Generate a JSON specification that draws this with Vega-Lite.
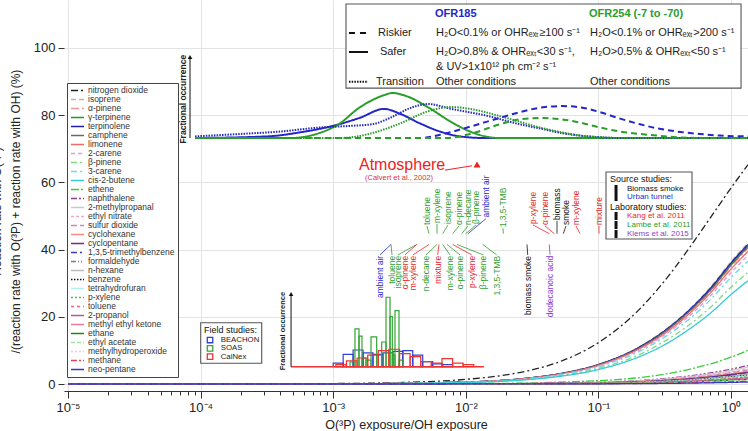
{
  "$schema": "https://vega.github.io/schema/vega-lite/v6.json",
  "width": 684,
  "height": 391,
  "autosize": {"type": "none"},
  "padding": {"left": 64, "top": 0, "right": 0, "bottom": 40},
  "background": "white",
  "config": {
    "font": "Liberation Sans",
    "view": {"stroke": null},
    "axis": {"labelFont": "Liberation Sans", "titleFont": "Liberation Sans", "labelColor": "#222", "titleColor": "#222", "domainColor": "#333", "tickColor": "#333", "gridColor": "#e3e3e3", "titleFontWeight": "normal"}
  },
  "datasets": {
    "curves": [
      {"s":"nitrogen dioxide","x":1e-5,"y":0},{"s":"nitrogen dioxide","x":0.001,"y":0.14},{"s":"nitrogen dioxide","x":0.003,"y":0.42},{"s":"nitrogen dioxide","x":0.01,"y":1.38},{"s":"nitrogen dioxide","x":0.02,"y":2.7},{"s":"nitrogen dioxide","x":0.03,"y":4.0},{"s":"nitrogen dioxide","x":0.05,"y":6.5},{"s":"nitrogen dioxide","x":0.1,"y":12.3},{"s":"nitrogen dioxide","x":0.2,"y":21.9},{"s":"nitrogen dioxide","x":0.3,"y":29.6},{"s":"nitrogen dioxide","x":0.5,"y":41.2},{"s":"nitrogen dioxide","x":0.7,"y":49.5},{"s":"nitrogen dioxide","x":1,"y":58.3},{"s":"nitrogen dioxide","x":1.34,"y":65.2},
      {"s":"isoprene","x":1e-5,"y":0},{"s":"isoprene","x":0.001,"y":0.06},{"s":"isoprene","x":0.01,"y":0.61},{"s":"isoprene","x":0.03,"y":1.82},{"s":"isoprene","x":0.05,"y":3.03},{"s":"isoprene","x":0.1,"y":5.86},{"s":"isoprene","x":0.2,"y":10.9},{"s":"isoprene","x":0.3,"y":15.4},{"s":"isoprene","x":0.5,"y":22.7},{"s":"isoprene","x":0.7,"y":28.8},{"s":"isoprene","x":1,"y":36.4},{"s":"isoprene","x":1.34,"y":41.9},
      {"s":"α-pinene","x":1e-5,"y":0},{"s":"α-pinene","x":0.001,"y":0.06},{"s":"α-pinene","x":0.01,"y":0.58},{"s":"α-pinene","x":0.03,"y":1.75},{"s":"α-pinene","x":0.05,"y":2.91},{"s":"α-pinene","x":0.1,"y":5.63},{"s":"α-pinene","x":0.2,"y":10.5},{"s":"α-pinene","x":0.3,"y":14.7},{"s":"α-pinene","x":0.5,"y":21.8},{"s":"α-pinene","x":0.7,"y":27.6},{"s":"α-pinene","x":1,"y":34.9},{"s":"α-pinene","x":1.34,"y":40.3},
      {"s":"γ-terpinene","x":1e-5,"y":0},{"s":"γ-terpinene","x":0.001,"y":0.06},{"s":"γ-terpinene","x":0.01,"y":0.59},{"s":"γ-terpinene","x":0.03,"y":1.78},{"s":"γ-terpinene","x":0.05,"y":2.97},{"s":"γ-terpinene","x":0.1,"y":5.74},{"s":"γ-terpinene","x":0.2,"y":10.7},{"s":"γ-terpinene","x":0.3,"y":15.0},{"s":"γ-terpinene","x":0.5,"y":22.3},{"s":"γ-terpinene","x":0.7,"y":28.2},{"s":"γ-terpinene","x":1,"y":35.6},{"s":"γ-terpinene","x":1.34,"y":41.1},
      {"s":"terpinolene","x":1e-5,"y":0},{"s":"terpinolene","x":0.001,"y":0.06},{"s":"terpinolene","x":0.01,"y":0.6},{"s":"terpinolene","x":0.03,"y":1.8},{"s":"terpinolene","x":0.05,"y":3.0},{"s":"terpinolene","x":0.1,"y":5.8},{"s":"terpinolene","x":0.2,"y":10.8},{"s":"terpinolene","x":0.3,"y":15.2},{"s":"terpinolene","x":0.5,"y":22.5},{"s":"terpinolene","x":0.7,"y":28.5},{"s":"terpinolene","x":1,"y":36},{"s":"terpinolene","x":1.34,"y":41.5},
      {"s":"camphene","x":1e-5,"y":0},{"s":"camphene","x":0.001,"y":0.06},{"s":"camphene","x":0.01,"y":0.59},{"s":"camphene","x":0.03,"y":1.76},{"s":"camphene","x":0.05,"y":2.94},{"s":"camphene","x":0.1,"y":5.68},{"s":"camphene","x":0.2,"y":10.6},{"s":"camphene","x":0.3,"y":14.9},{"s":"camphene","x":0.5,"y":22.1},{"s":"camphene","x":0.7,"y":27.9},{"s":"camphene","x":1,"y":35.3},{"s":"camphene","x":1.34,"y":40.7},
      {"s":"limonene","x":1e-5,"y":0},{"s":"limonene","x":0.001,"y":0.06},{"s":"limonene","x":0.01,"y":0.57},{"s":"limonene","x":0.03,"y":1.71},{"s":"limonene","x":0.05,"y":2.85},{"s":"limonene","x":0.1,"y":5.51},{"s":"limonene","x":0.2,"y":10.3},{"s":"limonene","x":0.3,"y":14.4},{"s":"limonene","x":0.5,"y":21.4},{"s":"limonene","x":0.7,"y":27.1},{"s":"limonene","x":1,"y":34.2},{"s":"limonene","x":1.34,"y":39.4},
      {"s":"2-carene","x":1e-5,"y":0},{"s":"2-carene","x":0.001,"y":0.06},{"s":"2-carene","x":0.01,"y":0.55},{"s":"2-carene","x":0.03,"y":1.66},{"s":"2-carene","x":0.05,"y":2.76},{"s":"2-carene","x":0.1,"y":5.34},{"s":"2-carene","x":0.2,"y":9.9},{"s":"2-carene","x":0.3,"y":14.0},{"s":"2-carene","x":0.5,"y":20.7},{"s":"2-carene","x":0.7,"y":26.2},{"s":"2-carene","x":1,"y":33.1},{"s":"2-carene","x":1.34,"y":38.2},
      {"s":"β-pinene","x":1e-5,"y":0},{"s":"β-pinene","x":0.001,"y":0.05},{"s":"β-pinene","x":0.01,"y":0.48},{"s":"β-pinene","x":0.03,"y":1.44},{"s":"β-pinene","x":0.05,"y":2.4},{"s":"β-pinene","x":0.1,"y":4.64},{"s":"β-pinene","x":0.2,"y":8.6},{"s":"β-pinene","x":0.3,"y":12.2},{"s":"β-pinene","x":0.5,"y":18.0},{"s":"β-pinene","x":0.7,"y":22.8},{"s":"β-pinene","x":1,"y":28.8},{"s":"β-pinene","x":1.34,"y":33.2},
      {"s":"3-carene","x":1e-5,"y":0},{"s":"3-carene","x":0.001,"y":0.05},{"s":"3-carene","x":0.01,"y":0.53},{"s":"3-carene","x":0.03,"y":1.58},{"s":"3-carene","x":0.05,"y":2.64},{"s":"3-carene","x":0.1,"y":5.1},{"s":"3-carene","x":0.2,"y":9.5},{"s":"3-carene","x":0.3,"y":13.4},{"s":"3-carene","x":0.5,"y":19.8},{"s":"3-carene","x":0.7,"y":25.1},{"s":"3-carene","x":1,"y":31.7},{"s":"3-carene","x":1.34,"y":36.5},
      {"s":"cis-2-butene","x":1e-5,"y":0},{"s":"cis-2-butene","x":0.001,"y":0.04},{"s":"cis-2-butene","x":0.01,"y":0.44},{"s":"cis-2-butene","x":0.03,"y":1.33},{"s":"cis-2-butene","x":0.05,"y":2.22},{"s":"cis-2-butene","x":0.1,"y":4.29},{"s":"cis-2-butene","x":0.2,"y":8.0},{"s":"cis-2-butene","x":0.3,"y":11.2},{"s":"cis-2-butene","x":0.5,"y":16.7},{"s":"cis-2-butene","x":0.7,"y":21.1},{"s":"cis-2-butene","x":1,"y":26.6},{"s":"cis-2-butene","x":1.34,"y":30.7},
      {"s":"ethene","x":1e-5,"y":0},{"s":"ethene","x":0.01,"y":0.1},{"s":"ethene","x":0.1,"y":1.0},{"s":"ethene","x":0.3,"y":2.8},{"s":"ethene","x":0.5,"y":4.5},{"s":"ethene","x":0.7,"y":6.0},{"s":"ethene","x":1,"y":8.0},{"s":"ethene","x":1.34,"y":10.0},
      {"s":"naphthalene","x":1e-5,"y":0},{"s":"naphthalene","x":0.01,"y":0.06},{"s":"naphthalene","x":0.1,"y":0.55},{"s":"naphthalene","x":0.3,"y":1.54},{"s":"naphthalene","x":0.5,"y":2.48},{"s":"naphthalene","x":0.7,"y":3.3},{"s":"naphthalene","x":1,"y":4.4},{"s":"naphthalene","x":1.34,"y":5.5},
      {"s":"2-methylpropanal","x":1e-5,"y":0},{"s":"2-methylpropanal","x":0.01,"y":0.05},{"s":"2-methylpropanal","x":0.1,"y":0.5},{"s":"2-methylpropanal","x":0.3,"y":1.4},{"s":"2-methylpropanal","x":0.5,"y":2.25},{"s":"2-methylpropanal","x":0.7,"y":3.0},{"s":"2-methylpropanal","x":1,"y":4.0},{"s":"2-methylpropanal","x":1.34,"y":5.0},
      {"s":"ethyl nitrate","x":1e-5,"y":0},{"s":"ethyl nitrate","x":0.01,"y":0.05},{"s":"ethyl nitrate","x":0.1,"y":0.45},{"s":"ethyl nitrate","x":0.3,"y":1.26},{"s":"ethyl nitrate","x":0.5,"y":2.03},{"s":"ethyl nitrate","x":0.7,"y":2.7},{"s":"ethyl nitrate","x":1,"y":3.6},{"s":"ethyl nitrate","x":1.34,"y":4.5},
      {"s":"sulfur dioxide","x":1e-5,"y":0},{"s":"sulfur dioxide","x":0.01,"y":0.04},{"s":"sulfur dioxide","x":0.1,"y":0.42},{"s":"sulfur dioxide","x":0.3,"y":1.18},{"s":"sulfur dioxide","x":0.5,"y":1.89},{"s":"sulfur dioxide","x":0.7,"y":2.52},{"s":"sulfur dioxide","x":1,"y":3.36},{"s":"sulfur dioxide","x":1.34,"y":4.2},
      {"s":"cyclohexane","x":1e-5,"y":0},{"s":"cyclohexane","x":0.01,"y":0.04},{"s":"cyclohexane","x":0.1,"y":0.38},{"s":"cyclohexane","x":0.3,"y":1.06},{"s":"cyclohexane","x":0.5,"y":1.71},{"s":"cyclohexane","x":0.7,"y":2.28},{"s":"cyclohexane","x":1,"y":3.04},{"s":"cyclohexane","x":1.34,"y":3.8},
      {"s":"cyclopentane","x":1e-5,"y":0},{"s":"cyclopentane","x":0.01,"y":0.04},{"s":"cyclopentane","x":0.1,"y":0.35},{"s":"cyclopentane","x":0.3,"y":0.98},{"s":"cyclopentane","x":0.5,"y":1.58},{"s":"cyclopentane","x":0.7,"y":2.1},{"s":"cyclopentane","x":1,"y":2.8},{"s":"cyclopentane","x":1.34,"y":3.5},
      {"s":"1,3,5-trimethylbenzene","x":1e-5,"y":0},{"s":"1,3,5-trimethylbenzene","x":0.01,"y":0.03},{"s":"1,3,5-trimethylbenzene","x":0.1,"y":0.33},{"s":"1,3,5-trimethylbenzene","x":0.3,"y":0.92},{"s":"1,3,5-trimethylbenzene","x":0.5,"y":1.49},{"s":"1,3,5-trimethylbenzene","x":0.7,"y":1.98},{"s":"1,3,5-trimethylbenzene","x":1,"y":2.64},{"s":"1,3,5-trimethylbenzene","x":1.34,"y":3.3},
      {"s":"formaldehyde","x":1e-5,"y":0},{"s":"formaldehyde","x":0.01,"y":0.03},{"s":"formaldehyde","x":0.1,"y":0.3},{"s":"formaldehyde","x":0.3,"y":0.84},{"s":"formaldehyde","x":0.5,"y":1.35},{"s":"formaldehyde","x":0.7,"y":1.8},{"s":"formaldehyde","x":1,"y":2.4},{"s":"formaldehyde","x":1.34,"y":3.0},
      {"s":"n-hexane","x":1e-5,"y":0},{"s":"n-hexane","x":0.01,"y":0.03},{"s":"n-hexane","x":0.1,"y":0.28},{"s":"n-hexane","x":0.3,"y":0.78},{"s":"n-hexane","x":0.5,"y":1.26},{"s":"n-hexane","x":0.7,"y":1.68},{"s":"n-hexane","x":1,"y":2.24},{"s":"n-hexane","x":1.34,"y":2.8},
      {"s":"benzene","x":1e-5,"y":0},{"s":"benzene","x":0.01,"y":0.03},{"s":"benzene","x":0.1,"y":0.26},{"s":"benzene","x":0.3,"y":0.73},{"s":"benzene","x":0.5,"y":1.17},{"s":"benzene","x":0.7,"y":1.56},{"s":"benzene","x":1,"y":2.08},{"s":"benzene","x":1.34,"y":2.6},
      {"s":"tetrahydrofuran","x":1e-5,"y":0},{"s":"tetrahydrofuran","x":0.01,"y":0.02},{"s":"tetrahydrofuran","x":0.1,"y":0.24},{"s":"tetrahydrofuran","x":0.3,"y":0.67},{"s":"tetrahydrofuran","x":0.5,"y":1.08},{"s":"tetrahydrofuran","x":0.7,"y":1.44},{"s":"tetrahydrofuran","x":1,"y":1.92},{"s":"tetrahydrofuran","x":1.34,"y":2.4},
      {"s":"p-xylene","x":1e-5,"y":0},{"s":"p-xylene","x":0.01,"y":0.02},{"s":"p-xylene","x":0.1,"y":0.22},{"s":"p-xylene","x":0.3,"y":0.62},{"s":"p-xylene","x":0.5,"y":0.99},{"s":"p-xylene","x":0.7,"y":1.32},{"s":"p-xylene","x":1,"y":1.76},{"s":"p-xylene","x":1.34,"y":2.2},
      {"s":"toluene","x":1e-5,"y":0},{"s":"toluene","x":0.01,"y":0.02},{"s":"toluene","x":0.1,"y":0.2},{"s":"toluene","x":0.3,"y":0.56},{"s":"toluene","x":0.5,"y":0.9},{"s":"toluene","x":0.7,"y":1.2},{"s":"toluene","x":1,"y":1.6},{"s":"toluene","x":1.34,"y":2.0},
      {"s":"2-propanol","x":1e-5,"y":0},{"s":"2-propanol","x":0.01,"y":0.02},{"s":"2-propanol","x":0.1,"y":0.18},{"s":"2-propanol","x":0.3,"y":0.5},{"s":"2-propanol","x":0.5,"y":0.81},{"s":"2-propanol","x":0.7,"y":1.08},{"s":"2-propanol","x":1,"y":1.44},{"s":"2-propanol","x":1.34,"y":1.8},
      {"s":"methyl ethyl ketone","x":1e-5,"y":0},{"s":"methyl ethyl ketone","x":0.01,"y":0.02},{"s":"methyl ethyl ketone","x":0.1,"y":0.16},{"s":"methyl ethyl ketone","x":0.3,"y":0.45},{"s":"methyl ethyl ketone","x":0.5,"y":0.72},{"s":"methyl ethyl ketone","x":0.7,"y":0.96},{"s":"methyl ethyl ketone","x":1,"y":1.28},{"s":"methyl ethyl ketone","x":1.34,"y":1.6},
      {"s":"ethane","x":1e-5,"y":0},{"s":"ethane","x":0.01,"y":0.01},{"s":"ethane","x":0.1,"y":0.14},{"s":"ethane","x":0.3,"y":0.39},{"s":"ethane","x":0.5,"y":0.63},{"s":"ethane","x":0.7,"y":0.84},{"s":"ethane","x":1,"y":1.12},{"s":"ethane","x":1.34,"y":1.4},
      {"s":"ethyl acetate","x":1e-5,"y":0},{"s":"ethyl acetate","x":0.01,"y":0.01},{"s":"ethyl acetate","x":0.1,"y":0.12},{"s":"ethyl acetate","x":0.3,"y":0.34},{"s":"ethyl acetate","x":0.5,"y":0.54},{"s":"ethyl acetate","x":0.7,"y":0.72},{"s":"ethyl acetate","x":1,"y":0.96},{"s":"ethyl acetate","x":1.34,"y":1.2},
      {"s":"methylhydroperoxide","x":1e-5,"y":0},{"s":"methylhydroperoxide","x":0.01,"y":0.01},{"s":"methylhydroperoxide","x":0.1,"y":0.1},{"s":"methylhydroperoxide","x":0.3,"y":0.28},{"s":"methylhydroperoxide","x":0.5,"y":0.45},{"s":"methylhydroperoxide","x":0.7,"y":0.6},{"s":"methylhydroperoxide","x":1,"y":0.8},{"s":"methylhydroperoxide","x":1.34,"y":1.0},
      {"s":"methane","x":1e-5,"y":0},{"s":"methane","x":0.01,"y":0.01},{"s":"methane","x":0.1,"y":0.08},{"s":"methane","x":0.3,"y":0.22},{"s":"methane","x":0.5,"y":0.36},{"s":"methane","x":0.7,"y":0.48},{"s":"methane","x":1,"y":0.64},{"s":"methane","x":1.34,"y":0.8},
      {"s":"neo-pentane","x":1e-5,"y":0},{"s":"neo-pentane","x":0.01,"y":0.01},{"s":"neo-pentane","x":0.1,"y":0.06},{"s":"neo-pentane","x":0.3,"y":0.17},{"s":"neo-pentane","x":0.5,"y":0.27},{"s":"neo-pentane","x":0.7,"y":0.36},{"s":"neo-pentane","x":1,"y":0.48},{"s":"neo-pentane","x":1.34,"y":0.6}
    ],
    "dist": [
      {"o":"OFR185","k":"Safer","x":9.08e-5,"v":0},{"o":"OFR185","k":"Safer","x":3.17e-4,"v":0.02},{"o":"OFR185","k":"Safer","x":5.62e-4,"v":0.07},{"o":"OFR185","k":"Safer","x":1.05e-3,"v":0.16},{"o":"OFR185","k":"Safer","x":1.59e-3,"v":0.25},{"o":"OFR185","k":"Safer","x":2.42e-3,"v":0.36},{"o":"OFR185","k":"Safer","x":3.19e-3,"v":0.3},{"o":"OFR185","k":"Safer","x":4.52e-3,"v":0.18},{"o":"OFR185","k":"Safer","x":6.39e-3,"v":0.08},{"o":"OFR185","k":"Safer","x":9.04e-3,"v":0.02},{"o":"OFR185","k":"Safer","x":0.014,"v":0},{"o":"OFR185","k":"Safer","x":1.343,"v":0},
      {"o":"OFR254","k":"Safer","x":9.08e-5,"v":0},{"o":"OFR254","k":"Safer","x":4.72e-4,"v":0},{"o":"OFR254","k":"Safer","x":1.05e-3,"v":0.15},{"o":"OFR254","k":"Safer","x":1.59e-3,"v":0.38},{"o":"OFR254","k":"Safer","x":2.42e-3,"v":0.53},{"o":"OFR254","k":"Safer","x":2.78e-3,"v":0.556},{"o":"OFR254","k":"Safer","x":3.8e-3,"v":0.5},{"o":"OFR254","k":"Safer","x":5.19e-3,"v":0.38},{"o":"OFR254","k":"Safer","x":7.73e-3,"v":0.2},{"o":"OFR254","k":"Safer","x":0.01076,"v":0.08},{"o":"OFR254","k":"Safer","x":0.014,"v":0.02},{"o":"OFR254","k":"Safer","x":0.0181,"v":0},{"o":"OFR254","k":"Safer","x":1.343,"v":0},
      {"o":"OFR185","k":"Transition","x":9.08e-5,"v":0.02},{"o":"OFR185","k":"Transition","x":1.98e-4,"v":0.05},{"o":"OFR185","k":"Transition","x":3.97e-4,"v":0.08},{"o":"OFR185","k":"Transition","x":7.95e-4,"v":0.13},{"o":"OFR185","k":"Transition","x":1.34e-3,"v":0.15},{"o":"OFR185","k":"Transition","x":1.96e-3,"v":0.17},{"o":"OFR185","k":"Transition","x":2.78e-3,"v":0.26},{"o":"OFR185","k":"Transition","x":3.8e-3,"v":0.37},{"o":"OFR185","k":"Transition","x":5.19e-3,"v":0.42},{"o":"OFR185","k":"Transition","x":7.73e-3,"v":0.36},{"o":"OFR185","k":"Transition","x":0.014,"v":0.28},{"o":"OFR185","k":"Transition","x":0.0256,"v":0.17},{"o":"OFR185","k":"Transition","x":0.0382,"v":0.11},{"o":"OFR185","k":"Transition","x":0.0532,"v":0.06},{"o":"OFR185","k":"Transition","x":0.0727,"v":0.03},{"o":"OFR185","k":"Transition","x":0.1028,"v":0.01},{"o":"OFR185","k":"Transition","x":0.1455,"v":0},{"o":"OFR185","k":"Transition","x":1.343,"v":0},
      {"o":"OFR254","k":"Transition","x":9.08e-5,"v":0},{"o":"OFR254","k":"Transition","x":1.12e-3,"v":0},{"o":"OFR254","k":"Transition","x":1.96e-3,"v":0.06},{"o":"OFR254","k":"Transition","x":3.19e-3,"v":0.18},{"o":"OFR254","k":"Transition","x":5.19e-3,"v":0.33},{"o":"OFR254","k":"Transition","x":7.73e-3,"v":0.383},{"o":"OFR254","k":"Transition","x":0.01076,"v":0.36},{"o":"OFR254","k":"Transition","x":0.0181,"v":0.27},{"o":"OFR254","k":"Transition","x":0.0256,"v":0.2},{"o":"OFR254","k":"Transition","x":0.0382,"v":0.12},{"o":"OFR254","k":"Transition","x":0.0532,"v":0.07},{"o":"OFR254","k":"Transition","x":0.0727,"v":0.03},{"o":"OFR254","k":"Transition","x":0.1028,"v":0.01},{"o":"OFR254","k":"Transition","x":0.1455,"v":0},{"o":"OFR254","k":"Transition","x":1.343,"v":0},
      {"o":"OFR185","k":"Riskier","x":9.08e-5,"v":0},{"o":"OFR185","k":"Riskier","x":4.52e-3,"v":0},{"o":"OFR185","k":"Riskier","x":6.39e-3,"v":0.04},{"o":"OFR185","k":"Riskier","x":0.01076,"v":0.14},{"o":"OFR185","k":"Riskier","x":0.0181,"v":0.25},{"o":"OFR185","k":"Riskier","x":0.0256,"v":0.32},{"o":"OFR185","k":"Riskier","x":0.0382,"v":0.38},{"o":"OFR185","k":"Riskier","x":0.0532,"v":0.395},{"o":"OFR185","k":"Riskier","x":0.0727,"v":0.38},{"o":"OFR185","k":"Riskier","x":0.1028,"v":0.32},{"o":"OFR185","k":"Riskier","x":0.1455,"v":0.24},{"o":"OFR185","k":"Riskier","x":0.206,"v":0.17},{"o":"OFR185","k":"Riskier","x":0.277,"v":0.12},{"o":"OFR185","k":"Riskier","x":0.392,"v":0.08},{"o":"OFR185","k":"Riskier","x":0.5835,"v":0.05},{"o":"OFR185","k":"Riskier","x":0.826,"v":0.03},{"o":"OFR185","k":"Riskier","x":1.343,"v":0.02},
      {"o":"OFR254","k":"Riskier","x":9.08e-5,"v":0},{"o":"OFR254","k":"Riskier","x":7.2e-3,"v":0},{"o":"OFR254","k":"Riskier","x":0.01076,"v":0.05},{"o":"OFR254","k":"Riskier","x":0.0181,"v":0.17},{"o":"OFR254","k":"Riskier","x":0.0256,"v":0.23},{"o":"OFR254","k":"Riskier","x":0.0382,"v":0.247},{"o":"OFR254","k":"Riskier","x":0.0532,"v":0.23},{"o":"OFR254","k":"Riskier","x":0.0727,"v":0.19},{"o":"OFR254","k":"Riskier","x":0.1028,"v":0.13},{"o":"OFR254","k":"Riskier","x":0.1455,"v":0.08},{"o":"OFR254","k":"Riskier","x":0.206,"v":0.05},{"o":"OFR254","k":"Riskier","x":0.277,"v":0.03},{"o":"OFR254","k":"Riskier","x":0.392,"v":0.01},{"o":"OFR254","k":"Riskier","x":0.5835,"v":0},{"o":"OFR254","k":"Riskier","x":1.343,"v":0}
    ],
    "hist": [
      {"st":"BEACHON","x":1.0e-3,"x2":1.189e-3,"v":0.05},{"st":"BEACHON","x":1.189e-3,"x2":1.413e-3,"v":0.17},{"st":"BEACHON","x":1.413e-3,"x2":1.679e-3,"v":0.23},{"st":"BEACHON","x":1.679e-3,"x2":1.995e-3,"v":0.19},{"st":"BEACHON","x":1.995e-3,"x2":2.371e-3,"v":0.17},{"st":"BEACHON","x":2.371e-3,"x2":2.818e-3,"v":0.19},{"st":"BEACHON","x":2.818e-3,"x2":3.35e-3,"v":0.21},{"st":"BEACHON","x":3.35e-3,"x2":3.981e-3,"v":0.22},{"st":"BEACHON","x":3.981e-3,"x2":4.732e-3,"v":0.16},{"st":"BEACHON","x":4.732e-3,"x2":5.623e-3,"v":0.07},{"st":"BEACHON","x":5.623e-3,"x2":6.683e-3,"v":0.04},{"st":"BEACHON","x":6.683e-3,"x2":7.943e-3,"v":0.03},
      {"st":"SOAS","x":1.339e-3,"x2":1.459e-3,"v":0.065},{"st":"SOAS","x":1.459e-3,"x2":1.565e-3,"v":0.52},{"st":"SOAS","x":1.565e-3,"x2":1.648e-3,"v":0.42},{"st":"SOAS","x":1.648e-3,"x2":1.767e-3,"v":0.12},{"st":"SOAS","x":1.767e-3,"x2":1.928e-3,"v":0.09},{"st":"SOAS","x":1.928e-3,"x2":2.128e-3,"v":0.41},{"st":"SOAS","x":2.128e-3,"x2":2.321e-3,"v":0.16},{"st":"SOAS","x":2.321e-3,"x2":2.502e-3,"v":0.34},{"st":"SOAS","x":2.502e-3,"x2":2.682e-3,"v":0.955},{"st":"SOAS","x":2.682e-3,"x2":2.791e-3,"v":0.69},{"st":"SOAS","x":2.791e-3,"x2":2.924e-3,"v":0.16},{"st":"SOAS","x":2.924e-3,"x2":3.134e-3,"v":0.77},{"st":"SOAS","x":3.134e-3,"x2":3.358e-3,"v":0.09},
      {"st":"CalNex","x":1.047e-3,"x2":1.259e-3,"v":0.03},{"st":"CalNex","x":1.259e-3,"x2":1.514e-3,"v":0.08},{"st":"CalNex","x":1.514e-3,"x2":1.82e-3,"v":0.12},{"st":"CalNex","x":1.82e-3,"x2":2.188e-3,"v":0.16},{"st":"CalNex","x":2.188e-3,"x2":2.63e-3,"v":0.22},{"st":"CalNex","x":2.63e-3,"x2":3.162e-3,"v":0.24},{"st":"CalNex","x":3.162e-3,"x2":3.802e-3,"v":0.18},{"st":"CalNex","x":3.802e-3,"x2":4.571e-3,"v":0.14},{"st":"CalNex","x":4.571e-3,"x2":5.495e-3,"v":0.07},{"st":"CalNex","x":5.495e-3,"x2":6.607e-3,"v":0.05},{"st":"CalNex","x":6.607e-3,"x2":7.943e-3,"v":0.11},{"st":"CalNex","x":7.943e-3,"x2":9.55e-3,"v":0.05},{"st":"CalNex","x":9.55e-3,"x2":0.01148,"v":0.03}
    ],
    "bars": [
      {"x":2.729e-3},{"x":4.263e-3},{"x":5.279e-3},{"x":6.064e-3},{"x":6.278e-3},{"x":6.695e-3},{"x":7.215e-3},{"x":7.963e-3},{"x":8.583e-3},{"x":9.314e-3},{"x":9.982e-3},{"x":0.01039},{"x":0.01341},{"x":0.01918},{"x":0.02894},{"x":0.04263},{"x":0.04649},{"x":0.05435},{"x":0.07264},{"x":0.101}
    ],
    "toplab": [
      {"t":"toluene","c":"Lambe","x":5.098e-3,"y":47.0,"bx":5.279e-3},
      {"t":"m-xylene","c":"Lambe","x":6.064e-3,"y":47.6,"bx":6.064e-3},
      {"t":"isoprene","c":"Lambe","x":7.342e-3,"y":47.3,"bx":6.695e-3},
      {"t":"α-pinene","c":"Lambe","x":8.886e-3,"y":47.0,"bx":7.963e-3},
      {"t":"n-decane","c":"Lambe","x":0.01039,"y":47.0,"bx":9.314e-3},
      {"t":"β-pinene","c":"Lambe","x":0.01194,"y":47.3,"bx":9.982e-3},
      {"t":"ambient air","c":"tunnel","x":0.0142,"y":49.2,"bx":0.01039},
      {"t":"1,3,5-TMB","c":"Lambe","x":0.01908,"y":46.3,"bx":0.01918},
      {"t":"p-xylene","c":"Kang","x":0.03212,"y":47.3,"bx":0.04263},
      {"t":"α-pinene","c":"Kang","x":0.03957,"y":47.0,"bx":0.04649},
      {"t":"biomass","c":"black","x":0.04873,"y":48.5,"bx":0.04873},
      {"t":"smoke","c":"black","x":0.05697,"y":47.0,"bx":0.05435},
      {"t":"m-xylene","c":"Kang","x":0.06778,"y":47.0,"bx":0.07264},
      {"t":"mixture","c":"Kang","x":0.101,"y":47.0,"bx":0.101}
    ],
    "botlab": [
      {"t":"ambient air","c":"tunnel","x":2.254e-3,"y":38.4,"bx":2.729e-3},
      {"t":"toluene","c":"Lambe","x":2.776e-3,"y":38.4,"bx":2.729e-3},
      {"t":"isoprene","c":"Lambe","x":3.081e-3,"y":38.4,"bx":4.263e-3},
      {"t":"α-pinene","c":"Kang","x":3.479e-3,"y":38.4,"bx":4.263e-3},
      {"t":"m-xylene","c":"Kang","x":3.997e-3,"y":38.4,"bx":5.279e-3},
      {"t":"n-decane","c":"Lambe","x":5.009e-3,"y":38.4,"bx":6.064e-3},
      {"t":"mixture","c":"Kang","x":6.138e-3,"y":38.4,"bx":6.278e-3},
      {"t":"m-xylene","c":"Lambe","x":7.6e-3,"y":38.4,"bx":6.695e-3},
      {"t":"α-pinene","c":"Lambe","x":9.044e-3,"y":38.4,"bx":7.215e-3},
      {"t":"p-xylene","c":"Kang","x":0.01108,"y":38.4,"bx":7.963e-3},
      {"t":"β-pinene","c":"Lambe","x":0.01355,"y":38.4,"bx":8.583e-3},
      {"t":"1,3,5-TMB","c":"Lambe","x":0.0171,"y":38.4,"bx":0.01341},
      {"t":"biomass smoke","c":"black","x":0.02929,"y":38.4,"bx":0.02894},
      {"t":"dodecanoic acid","c":"Klems","x":0.04315,"y":38.4,"bx":0.04263}
    ]
  },
  "encoding": {
    "x": {"field": "x", "type": "quantitative", "scale": {"type": "log", "domain": [9.33e-6, 1.343], "nice": false},
      "axis": {
        "values": [1e-5,2e-5,3e-5,4e-5,5e-5,6e-5,7e-5,8e-5,9e-5,1e-4,2e-4,3e-4,4e-4,5e-4,6e-4,7e-4,8e-4,9e-4,0.001,0.002,0.003,0.004,0.005,0.006,0.007,0.008,0.009,0.01,0.02,0.03,0.04,0.05,0.06,0.07,0.08,0.09,0.1,0.2,0.3,0.4,0.5,0.6,0.7,0.8,0.9,1],
        "labelExpr": "abs(datum.value-1e-5)<1e-9 ? '10⁻⁵' : abs(datum.value-1e-4)<1e-8 ? '10⁻⁴' : abs(datum.value-1e-3)<1e-7 ? '10⁻³' : abs(datum.value-0.01)<1e-6 ? '10⁻²' : abs(datum.value-0.1)<1e-5 ? '10⁻¹' : abs(datum.value-1)<1e-4 ? '10⁰' : ''",
        "tickSize": {"condition": {"test": "abs(log(datum.value)/LN10 - round(log(datum.value)/LN10)) < 0.01", "value": 7}, "value": 4},
        "grid": true,
        "gridOpacity": {"condition": {"test": "abs(log(datum.value)/LN10 - round(log(datum.value)/LN10)) < 0.01", "value": 1}, "value": 0},
        "labelFontSize": 13, "labelPadding": 3, "labelOverlap": false, "labelFlush": false,
        "title": "O(³P) exposure/OH exposure", "titleFontSize": 12.5, "titleY": 37, "titleBaseline": "alphabetic"
      }}
  },
  "resolve": {"scale": {"y": "independent", "color": "independent", "strokeDash": "independent", "stroke": "independent"}},
  "layer": [
    {
      "data": {"name": "curves"},
      "encoding": {
        "y": {"field": "y", "type": "quantitative", "scale": {"domain": [-2.08, 114.2], "nice": false, "zero": false},
          "axis": {"values": [0, 20, 40, 60, 80, 100], "domain": false, "tickSize": 6, "labelFontSize": 13, "labelPadding": 3, "grid": true,
            "title": ["Reaction rate with O(³P)", "/(reaction rate with O(³P) + reaction rate with OH) (%)"],
            "titleFontSize": 12, "titleX": -73, "titleY": 211, "titleAngle": 270, "titleBaseline": "top", "titleAlign": "center", "titleLineHeight": 19}}
      },
      "layer": [
        {
          "mark": {"type": "line", "strokeWidth": 1.3, "interpolate": "monotone"},
          "encoding": {
            "color": {"field": "s", "type": "nominal",
              "scale": {"domain": ["nitrogen dioxide","isoprene","α-pinene","γ-terpinene","terpinolene","camphene","limonene","2-carene","β-pinene","3-carene","cis-2-butene","ethene","naphthalene","2-methylpropanal","ethyl nitrate","sulfur dioxide","cyclohexane","cyclopentane","1,3,5-trimethylbenzene","formaldehyde","n-hexane","benzene","tetrahydrofuran","p-xylene","toluene","2-propanol","methyl ethyl ketone","ethane","ethyl acetate","methylhydroperoxide","methane","neo-pentane"],
                "range": ["#222222","#bdb7a4","#e89a9a","#22992a","#1f1fa8","#6a6a6a","#f06a6a","#e29ae0","#7edb7e","#6adada","#35c8dc","#3ccc3c","#8e3a92","#c9c9c9","#f5a8c8","#c98ab8","#f58b80","#7a2a7a","#3a3ac0","#7d7d7d","#bcbcbc","#111111","#b0f0f0","#5cba5c","#f06876","#b8588a","#e9799a","#168a16","#9ce89c","#f7c6d6","#d84848","#3434c8"]},
              "legend": {"title": null, "orient": "none", "legendX": 3, "legendY": 83, "direction": "vertical", "symbolType": "stroke", "symbolSize": 170, "symbolStrokeWidth": 1.5, "symbolLimit": 40, "labelFontSize": 8.5, "labelFont": "Liberation Sans", "labelColor": "#333", "labelLimit": 110, "labelOffset": 3, "rowPadding": 0, "clipHeight": 8.9, "padding": 3, "strokeColor": "#444", "fillColor": "white"}},
            "strokeDash": {"field": "s", "type": "nominal",
              "scale": {"domain": ["nitrogen dioxide","isoprene","α-pinene","γ-terpinene","terpinolene","camphene","limonene","2-carene","β-pinene","3-carene","cis-2-butene","ethene","naphthalene","2-methylpropanal","ethyl nitrate","sulfur dioxide","cyclohexane","cyclopentane","1,3,5-trimethylbenzene","formaldehyde","n-hexane","benzene","tetrahydrofuran","p-xylene","toluene","2-propanol","methyl ethyl ketone","ethane","ethyl acetate","methylhydroperoxide","methane","neo-pentane"],
                "range": [[7,3,2,3],[5,3],[8,3,2,3],[1,0],[1,0],[1,0],[1,0],[4,3],[6,3,2,3],[6,3,2,3],[1,0],[8,2,2,2],[6,2,2,2,2,2],[1,0],[3,2],[6,3],[1,0],[1,0],[6,3,2,3],[5,2,1,2,1,2],[1,0],[1.5,1.5],[1,0],[2,2],[3,3],[1,0],[1,0],[1,0],[4,2],[2,2],[6,2,2,2],[1,0]]},
              "legend": {"title": null, "orient": "none", "legendX": 3, "legendY": 83, "direction": "vertical", "symbolType": "stroke", "symbolSize": 170, "symbolStrokeWidth": 1.5, "symbolLimit": 40, "labelFontSize": 8.5, "labelFont": "Liberation Sans", "labelColor": "#333", "labelLimit": 110, "labelOffset": 3, "rowPadding": 0, "clipHeight": 8.9, "padding": 3, "strokeColor": "#444", "fillColor": "white"}}
          }
        },
        {
          "data": {"values": [{"x": 9.33e-6}]},
          "mark": {"type": "rule", "color": "#333", "strokeWidth": 1},
          "encoding": {"y": {"datum": -2.08}, "y2": {"datum": 100}}
        }
      ]
    },
    {
      "data": {"name": "dist"},
      "encoding": {"y": {"field": "v", "type": "quantitative", "scale": {"domain": [-3.125, 1.705], "nice": false, "zero": false}, "axis": null}},
      "layer": [
        {
          "mark": {"type": "line", "strokeWidth": 2, "interpolate": "monotone"},
          "encoding": {
            "color": {"field": "o", "type": "nominal", "scale": {"domain": ["OFR185", "OFR254"], "range": ["#2626c8", "#2a9d2a"]}, "legend": null},
            "strokeDash": {"field": "k", "type": "nominal", "scale": {"domain": ["Riskier", "Safer", "Transition"], "range": [[6, 4], [1, 0], [1.5, 1.2]]}, "legend": null}
          }
        },
        {
          "data": {"values": [{"x": 8.32e-5, "v": 0, "v2": 1}]},
          "mark": {"type": "rule", "color": "#111", "strokeWidth": 1},
          "encoding": {"y2": {"field": "v2"}}
        },
        {
          "data": {"values": [{"x": 8.32e-5, "v": 1}]},
          "mark": {"type": "point", "shape": "triangle-up", "filled": true, "color": "#111", "size": 22, "opacity": 1}
        },
        {
          "data": {"values": [{"x": 7.37e-5, "v": 0.48, "t": "Fractional occurrence"}]},
          "mark": {"type": "text", "angle": 270, "fontSize": 8.5, "fontWeight": "bold", "color": "#222", "align": "center", "baseline": "middle"},
          "encoding": {"text": {"field": "t"}}
        }
      ]
    },
    {
      "data": {"name": "hist"},
      "encoding": {"y": {"field": "v", "type": "quantitative", "scale": {"domain": [-0.334, 5.042], "nice": false, "zero": false}, "axis": null}},
      "layer": [
        {
          "mark": {"type": "rect", "filled": false, "strokeWidth": 1.2},
          "encoding": {
            "x2": {"field": "x2"},
            "y2": {"datum": 0},
            "stroke": {"field": "st", "type": "nominal", "scale": {"domain": ["BEACHON", "SOAS", "CalNex"], "range": ["#3140d8", "#35a535", "#ee3333"]}, "legend": null}
          }
        },
        {
          "data": {"values": [{"x": 4.81e-4, "x2": 0.0137, "v": 0}]},
          "mark": {"type": "rule", "color": "#ee3333", "strokeWidth": 1.6},
          "encoding": {"x2": {"field": "x2"}}
        },
        {
          "data": {"values": [{"x": 4.81e-4, "v": 0, "v2": 1}]},
          "mark": {"type": "rule", "color": "#111", "strokeWidth": 1},
          "encoding": {"y2": {"field": "v2"}}
        },
        {
          "data": {"values": [{"x": 4.81e-4, "v": 1}]},
          "mark": {"type": "point", "shape": "triangle-up", "filled": true, "color": "#111", "size": 20, "opacity": 1}
        },
        {
          "data": {"values": [{"x": 4.18e-4, "v": 0.49, "t": "Fractional occurrence"}]},
          "mark": {"type": "text", "angle": 270, "fontSize": 7.5, "fontWeight": "bold", "color": "#222", "align": "center", "baseline": "middle"},
          "encoding": {"text": {"field": "t"}}
        }
      ]
    },
    {
      "encoding": {"y": {"field": "y", "type": "quantitative", "scale": {"domain": [-2.08, 114.2], "nice": false, "zero": false}, "axis": null}},
      "layer": [
        {
          "data": {"values": [
            {"x": 1.249e-3, "x2": 1.19, "y": 113.0, "y2": 88.0},
            {"x": 0.1141, "x2": 0.508, "y": 63.04, "y2": 43.12},
            {"x": 1.002e-4, "x2": 2.89e-4, "y": 18.23, "y2": 6.16}
          ]},
          "mark": {"type": "rect", "fill": "white", "stroke": "#555", "strokeWidth": 1.1},
          "encoding": {"x2": {"field": "x2"}, "y2": {"field": "y2"}}
        },
        {
          "data": {"values": [
            {"k": "Riskier", "x": 1.315e-3, "x2": 1.83e-3, "y": 104.4},
            {"k": "Safer", "x": 1.315e-3, "x2": 1.83e-3, "y": 98.7},
            {"k": "Transition", "x": 1.315e-3, "x2": 1.83e-3, "y": 89.9}
          ]},
          "mark": {"type": "rule", "color": "#111", "strokeWidth": 2},
          "encoding": {
            "x2": {"field": "x2"},
            "strokeDash": {"field": "k", "type": "nominal", "scale": {"domain": ["Riskier", "Safer", "Transition"], "range": [[6, 5], [1, 0], [1.5, 1.2]]}, "legend": null}
          }
        },
        {
          "data": {"values": [
            {"t": "Riskier", "x": 2.18e-3, "y": 104.4},
            {"t": "Safer", "x": 2.25e-3, "y": 98.7},
            {"t": "Transition", "x": 2.1e-3, "y": 89.9},
            {"t": "H₂O<0.1% or OHRₑₓₜ≥100 s⁻¹", "x": 5.96e-3, "y": 104.4},
            {"t": "H₂O>0.8% & OHRₑₓₜ<30 s⁻¹,", "x": 5.96e-3, "y": 98.7},
            {"t": "& UV>1x10¹² ph cm⁻² s⁻¹", "x": 5.96e-3, "y": 94.3},
            {"t": "Other conditions", "x": 5.96e-3, "y": 89.9},
            {"t": "H₂O<0.1% or OHRₑₓₜ>200 s⁻¹", "x": 0.0864, "y": 104.4},
            {"t": "H₂O>0.5% & OHRₑₓₜ<50 s⁻¹", "x": 0.0864, "y": 98.7},
            {"t": "Other conditions", "x": 0.0864, "y": 89.9}
          ]},
          "mark": {"type": "text", "align": "left", "baseline": "middle", "fontSize": 11, "color": "#222"},
          "encoding": {"text": {"field": "t"}}
        },
        {
          "data": {"values": [
            {"t": "OFR185", "c": "OFR185", "x": 5.86e-3, "y": 110.0},
            {"t": "OFR254 (-7 to -70)", "c": "OFR254", "x": 0.0849, "y": 110.0}
          ]},
          "mark": {"type": "text", "align": "left", "baseline": "middle", "fontSize": 11, "fontWeight": "bold"},
          "encoding": {
            "text": {"field": "t"},
            "color": {"field": "c", "type": "nominal", "scale": {"domain": ["black","tunnel","Kang","Lambe","Klems","OFR185","OFR254","BEACHON","SOAS","CalNex"], "range": ["#111111","#2a2ad0","#e8262a","#2e9e2e","#8a3fd0","#2626c8","#2a9d2a","#3140d8","#35a535","#ee3333"]}, "legend": null}
          }
        },
        {
          "data": {"values": [{"t": "Atmosphere", "x": 1.565e-3, "y": 65.1}]},
          "mark": {"type": "text", "align": "left", "baseline": "middle", "fontSize": 16, "color": "#ee2222"},
          "encoding": {"text": {"field": "t"}}
        },
        {
          "data": {"values": [{"t": "(Calvert et al., 2002)", "x": 1.738e-3, "y": 61.17}]},
          "mark": {"type": "text", "align": "left", "baseline": "middle", "fontSize": 7.5, "color": "#e03030"},
          "encoding": {"text": {"field": "t"}}
        },
        {
          "data": {"values": [{"x": 6.967e-3, "x2": 0.01114, "y": 63.6, "y2": 64.9}]},
          "mark": {"type": "rule", "color": "#ee2222", "strokeWidth": 1},
          "encoding": {"x2": {"field": "x2"}, "y2": {"field": "y2"}}
        },
        {
          "data": {"values": [{"x": 0.01215, "y": 65.27}]},
          "mark": {"type": "point", "shape": "triangle-up", "filled": true, "color": "#ee2222", "size": 50, "opacity": 1}
        },
        {
          "data": {"name": "bars"},
          "mark": {"type": "rule", "color": "#111", "strokeWidth": 3.5},
          "encoding": {"y": {"datum": 41.6}, "y2": {"datum": 44.6}}
        },
        {
          "data": {"name": "toplab"},
          "mark": {"type": "rule", "strokeWidth": 0.8},
          "encoding": {
            "x2": {"field": "bx"},
            "y2": {"datum": 44.7},
            "color": {"field": "c", "type": "nominal", "scale": {"domain": ["black","tunnel","Kang","Lambe","Klems","OFR185","OFR254","BEACHON","SOAS","CalNex"], "range": ["#111111","#2a2ad0","#e8262a","#2e9e2e","#8a3fd0","#2626c8","#2a9d2a","#3140d8","#35a535","#ee3333"]}, "legend": null}
          }
        },
        {
          "data": {"name": "botlab"},
          "mark": {"type": "rule", "strokeWidth": 0.8},
          "encoding": {
            "x2": {"field": "bx"},
            "y2": {"datum": 41.5},
            "color": {"field": "c", "type": "nominal", "scale": {"domain": ["black","tunnel","Kang","Lambe","Klems","OFR185","OFR254","BEACHON","SOAS","CalNex"], "range": ["#111111","#2a2ad0","#e8262a","#2e9e2e","#8a3fd0","#2626c8","#2a9d2a","#3140d8","#35a535","#ee3333"]}, "legend": null}
          }
        },
        {
          "data": {"name": "toplab"},
          "mark": {"type": "text", "angle": 270, "align": "left", "baseline": "middle", "fontSize": 8.5, "dx": 1},
          "encoding": {
            "text": {"field": "t"},
            "color": {"field": "c", "type": "nominal", "scale": {"domain": ["black","tunnel","Kang","Lambe","Klems","OFR185","OFR254","BEACHON","SOAS","CalNex"], "range": ["#111111","#2a2ad0","#e8262a","#2e9e2e","#8a3fd0","#2626c8","#2a9d2a","#3140d8","#35a535","#ee3333"]}, "legend": null}
          }
        },
        {
          "data": {"name": "botlab"},
          "mark": {"type": "text", "angle": 270, "align": "right", "baseline": "middle", "fontSize": 8.5, "dx": -1},
          "encoding": {
            "text": {"field": "t"},
            "color": {"field": "c", "type": "nominal", "scale": {"domain": ["black","tunnel","Kang","Lambe","Klems","OFR185","OFR254","BEACHON","SOAS","CalNex"], "range": ["#111111","#2a2ad0","#e8262a","#2e9e2e","#8a3fd0","#2626c8","#2a9d2a","#3140d8","#35a535","#ee3333"]}, "legend": null}
          }
        },
        {
          "data": {"values": [
            {"t": "Source studies:", "x": 0.1224, "y": 61.1},
            {"t": "Laboratory studies:", "x": 0.1224, "y": 52.63}
          ]},
          "mark": {"type": "text", "align": "left", "baseline": "middle", "fontSize": 9, "color": "#111"},
          "encoding": {"text": {"field": "t"}}
        },
        {
          "data": {"values": [
            {"t": "Biomass smoke", "c": "black", "x": 0.1643, "y": 57.98},
            {"t": "Urban tunnel", "c": "tunnel", "x": 0.1643, "y": 55.61},
            {"t": "Kang et al. 2011", "c": "Kang", "x": 0.1643, "y": 49.96},
            {"t": "Lambe et al. 2011", "c": "Lambe", "x": 0.1643, "y": 47.28},
            {"t": "Klems et al. 2015", "c": "Klems", "x": 0.1643, "y": 44.61}
          ]},
          "mark": {"type": "text", "align": "left", "baseline": "middle", "fontSize": 8},
          "encoding": {
            "text": {"field": "t"},
            "color": {"field": "c", "type": "nominal", "scale": {"domain": ["black","tunnel","Kang","Lambe","Klems","OFR185","OFR254","BEACHON","SOAS","CalNex"], "range": ["#111111","#2a2ad0","#e8262a","#2e9e2e","#8a3fd0","#2626c8","#2a9d2a","#3140d8","#35a535","#ee3333"]}, "legend": null}
          }
        },
        {
          "data": {"values": [
            {"x": 0.1358, "y": 56.78, "y2": 59.18},
            {"x": 0.1358, "y": 54.41, "y2": 56.81},
            {"x": 0.1358, "y": 48.76, "y2": 51.16},
            {"x": 0.1358, "y": 46.08, "y2": 48.48},
            {"x": 0.1358, "y": 43.41, "y2": 45.81}
          ]},
          "mark": {"type": "rule", "color": "#111", "strokeWidth": 3},
          "encoding": {"y2": {"field": "y2"}}
        },
        {
          "data": {"values": [{"t": "Field studies:", "x": 1.061e-4, "y": 16.06}]},
          "mark": {"type": "text", "align": "left", "baseline": "middle", "fontSize": 9, "color": "#111"},
          "encoding": {"text": {"field": "t"}}
        },
        {
          "data": {"values": [
            {"t": "BEACHON", "x": 1.418e-4, "y": 13.08},
            {"t": "SOAS", "x": 1.418e-4, "y": 10.62},
            {"t": "CalNex", "x": 1.418e-4, "y": 8.12}
          ]},
          "mark": {"type": "text", "align": "left", "baseline": "middle", "fontSize": 7.8, "color": "#222"},
          "encoding": {"text": {"field": "t"}}
        },
        {
          "data": {"values": [
            {"c": "BEACHON", "x": 1.178e-4, "y": 13.08},
            {"c": "SOAS", "x": 1.178e-4, "y": 10.62},
            {"c": "CalNex", "x": 1.178e-4, "y": 8.12}
          ]},
          "mark": {"type": "point", "shape": "square", "filled": false, "strokeWidth": 1.3, "size": 30, "opacity": 1},
          "encoding": {
            "color": {"field": "c", "type": "nominal", "scale": {"domain": ["black","tunnel","Kang","Lambe","Klems","OFR185","OFR254","BEACHON","SOAS","CalNex"], "range": ["#111111","#2a2ad0","#e8262a","#2e9e2e","#8a3fd0","#2626c8","#2a9d2a","#3140d8","#35a535","#ee3333"]}, "legend": null}
          }
        }
      ]
    }
  ]
}
